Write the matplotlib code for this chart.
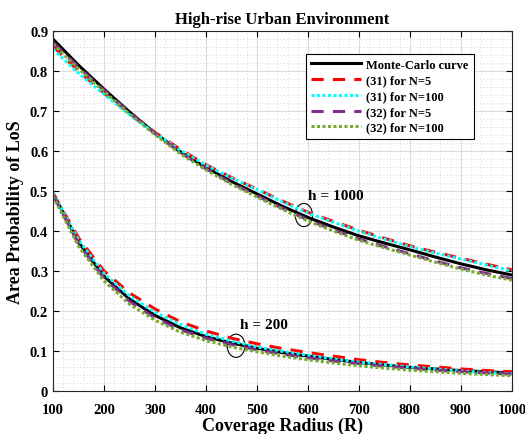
import numpy as np
import matplotlib
matplotlib.use("Agg")
from matplotlib import pyplot as plt
from matplotlib.patches import Ellipse
from matplotlib.ticker import AutoMinorLocator

plt.rcParams['font.family'] = ['Liberation Serif', 'DejaVu Serif']
plt.rcParams['font.weight'] = 'bold'

# coverage radius
R = [100, 150, 200, 250, 300, 350, 400, 450, 500, 550,
     600, 650, 700, 750, 800, 850, 900, 950, 1000]

# h = 1000
mc_1000 = [0.880, 0.815, 0.755, 0.698, 0.645, 0.598, 0.559, 0.524, 0.493, 0.462,
           0.434, 0.410, 0.388, 0.370, 0.353, 0.335, 0.318, 0.303, 0.290]
e31_n5_1000 = [0.862, 0.800, 0.745, 0.694, 0.647, 0.604, 0.566, 0.534, 0.505, 0.475,
               0.447, 0.424, 0.402, 0.382, 0.363, 0.347, 0.332, 0.317, 0.303]
e31_n100_1000 = [0.855, 0.795, 0.742, 0.691, 0.645, 0.602, 0.565, 0.533, 0.504, 0.473,
                 0.445, 0.422, 0.400, 0.380, 0.361, 0.345, 0.330, 0.315, 0.300]
e32_n5_1000 = [0.872, 0.810, 0.752, 0.696, 0.644, 0.596, 0.556, 0.520, 0.488, 0.457,
               0.428, 0.403, 0.380, 0.361, 0.343, 0.325, 0.308, 0.294, 0.281]
e32_n100_1000 = [0.868, 0.806, 0.749, 0.693, 0.641, 0.593, 0.553, 0.517, 0.485, 0.454,
                 0.425, 0.400, 0.377, 0.358, 0.340, 0.322, 0.305, 0.290, 0.277]

# h = 200
mc_200 = [0.495, 0.372, 0.287, 0.230, 0.189, 0.158, 0.136, 0.120, 0.107, 0.096,
          0.087, 0.079, 0.071, 0.065, 0.059, 0.055, 0.051, 0.048, 0.045]
e31_n5_200 = [0.495, 0.383, 0.300, 0.245, 0.205, 0.173, 0.150, 0.132, 0.118, 0.106,
              0.096, 0.087, 0.078, 0.071, 0.065, 0.060, 0.055, 0.051, 0.048]
e31_n100_200 = [0.495, 0.378, 0.294, 0.238, 0.197, 0.166, 0.142, 0.125, 0.110, 0.099,
                0.089, 0.080, 0.072, 0.066, 0.060, 0.055, 0.050, 0.046, 0.043]
e32_n5_200 = [0.490, 0.368, 0.282, 0.224, 0.183, 0.153, 0.132, 0.116, 0.103, 0.092,
              0.083, 0.075, 0.068, 0.062, 0.057, 0.052, 0.048, 0.045, 0.042]
e32_n100_200 = [0.487, 0.362, 0.275, 0.217, 0.177, 0.147, 0.126, 0.110, 0.098, 0.087,
                0.078, 0.070, 0.063, 0.057, 0.052, 0.048, 0.044, 0.041, 0.038]

fig = plt.figure(figsize=(5.25, 4.35), dpi=100)
ax = fig.add_axes([0.101, 0.099, 0.874, 0.827])

lw = 2.2
ax.plot(R, mc_1000, color='black', lw=lw, label='Monte-Carlo curve')
ax.plot(R, e31_n5_1000, color='red', ls=(0, (4, 3)), lw=lw, label='(31) for N=5')
ax.plot(R, e31_n100_1000, color='cyan', ls=(0, (1, 0.8)), lw=lw, label='(31) for N=100')
ax.plot(R, e32_n5_1000, color='#7E2F8E', ls=(0, (4, 3)), lw=lw, label='(32) for N=5')
ax.plot(R, e32_n100_1000, color='#77AC30', ls=(0, (1, 0.8)), lw=lw, label='(32) for N=100')

ax.plot(R, mc_200, color='black', lw=lw)
ax.plot(R, e31_n5_200, color='red', ls=(0, (4, 3)), lw=lw)
ax.plot(R, e31_n100_200, color='cyan', ls=(0, (1, 0.8)), lw=lw)
ax.plot(R, e32_n5_200, color='#7E2F8E', ls=(0, (4, 3)), lw=lw)
ax.plot(R, e32_n100_200, color='#77AC30', ls=(0, (1, 0.8)), lw=lw)

# annotations
ax.add_patch(Ellipse((592, 0.44), 34, 0.058, fill=False, lw=0.8, color='black'))
ax.add_patch(Ellipse((459, 0.113), 35, 0.058, fill=False, lw=0.8, color='black'))
ax.text(655, 0.49, 'h = 1000', ha='center', va='center', fontsize=11, fontweight='bold')
ax.text(514, 0.167, 'h = 200', ha='center', va='center', fontsize=11, fontweight='bold')

ax.set_xlim(100, 1000)
ax.set_ylim(0, 0.9)
ax.set_xticks(np.arange(100, 1001, 100))
ax.set_yticks(np.arange(0, 0.91, 0.1))
ax.set_yticklabels(['0', '0.1', '0.2', '0.3', '0.4', '0.5', '0.6', '0.7', '0.8', '0.9'])
ax.xaxis.set_minor_locator(AutoMinorLocator(5))
ax.yaxis.set_minor_locator(AutoMinorLocator(5))
ax.grid(True, which='major', color='#dcdcdc', lw=0.8)
ax.grid(True, which='minor', color='#c8c8c8', ls=(0, (1, 3)), lw=0.6)
ax.set_axisbelow(True)
ax.tick_params(which='both', direction='in', top=True, right=True, labelsize=10.5)
ax.tick_params(which='minor', length=0)
ax.tick_params(which='major', length=4)
ax.tick_params(axis='x', which='major', pad=9)
for s in ax.spines.values():
    s.set_color('#262626')
    s.set_linewidth(0.8)

ax.set_xlabel('Coverage Radius (R)', fontsize=13, fontweight='bold', labelpad=0)
ax.set_ylabel('Area Probability of LoS', fontsize=13, fontweight='bold', labelpad=4)
ax.set_title('High-rise Urban Environment', fontsize=12, fontweight='bold', pad=6)

leg = ax.legend(loc='upper right', bbox_to_anchor=(0.93, 0.955), fontsize=9,
                frameon=True, fancybox=False, framealpha=1, edgecolor='black',
                handlelength=4, borderpad=0.4, labelspacing=0.3, handletextpad=0.4)
leg.get_frame().set_linewidth(0.8)

fig.savefig('out.png', dpi=100)
